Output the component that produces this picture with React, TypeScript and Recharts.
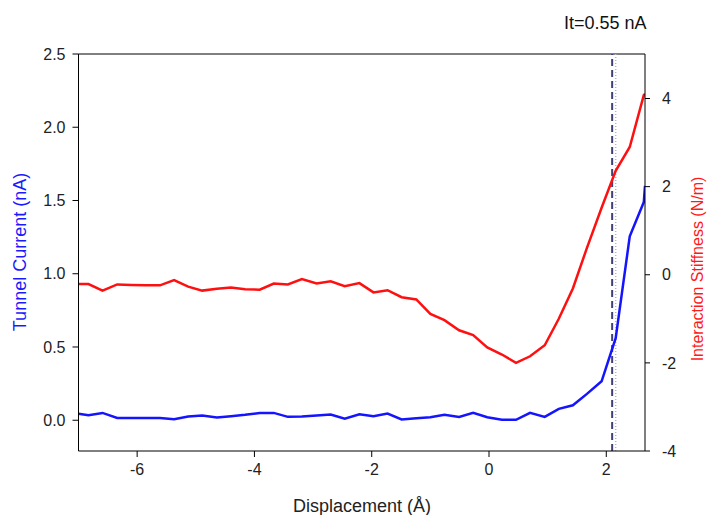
import { LineChart, Line, XAxis, YAxis, ReferenceLine, Label } from "recharts";

// tip displacement in Å
const displacement = [
  -7.0, -6.83, -6.59, -6.34, -6.1, -5.86, -5.61, -5.37, -5.13, -4.89, -4.64,
  -4.4, -4.16, -3.91, -3.67, -3.43, -3.19, -2.94, -2.7, -2.46, -2.21, -1.97,
  -1.73, -1.49, -1.24, -1.0, -0.76, -0.51, -0.27, -0.03, 0.22, 0.46, 0.7,
  0.95, 1.19, 1.43, 1.67, 1.92, 2.16, 2.4, 2.64, 2.66,
];

// tunnel current in nA
const tunnelCurrent = [
  0.044, 0.034, 0.05, 0.016, 0.016, 0.016, 0.016, 0.007, 0.025, 0.032, 0.018,
  0.027, 0.037, 0.05, 0.05, 0.023, 0.025, 0.032, 0.039, 0.01, 0.041, 0.027,
  0.046, 0.005, 0.014, 0.02, 0.037, 0.023, 0.05, 0.02, 0.003, 0.003, 0.05,
  0.023, 0.078, 0.102, 0.18, 0.266, 0.56, 1.255, 1.49, 1.6,
];

// interaction stiffness in N/m
const stiffness = [
  -0.21, -0.21, -0.36, -0.22, -0.23, -0.24, -0.24, -0.12, -0.27, -0.36, -0.32,
  -0.29, -0.33, -0.34, -0.2, -0.22, -0.1, -0.2, -0.15, -0.26, -0.19, -0.4,
  -0.35, -0.51, -0.56, -0.89, -1.03, -1.26, -1.37, -1.65, -1.81, -2.0, -1.85,
  -1.6, -1.0, -0.31, 0.61, 1.52, 2.36, 2.9, 4.08, 4.1,
];

const xTicks = [-6, -4, -2, 0, 2];
const currentTicks = [0, 0.5, 1, 1.5, 2, 2.5];
const stiffnessTicks = [-4, -2, 0, 2, 4];

const jumpMarker = 2.1;
const contactMarker = 2.16;

const data = displacement.map((x, i) => ({
  x,
  current: tunnelCurrent[i],
  stiffness: stiffness[i],
}));

const FONT = "'Liberation Sans', Arial, sans-serif";
const tickStyle = { fill: "#222", fontSize: 16, fontFamily: FONT };

export default function App() {
  return (
    <div
      style={{
        position: "absolute",
        left: 0,
        top: 0,
        width: 708,
        height: 515,
        background: "#fff",
        fontFamily: FONT,
      }}
    >
      <div
        style={{
          position: "absolute",
          left: 564,
          top: 13,
          fontSize: 18,
          color: "#111",
        }}
      >
        It=0.55 nA
      </div>
      <LineChart
        width={708}
        height={515}
        data={data}
        margin={{ top: 54, right: 0, bottom: 0, left: 0 }}
      >
        <XAxis
          dataKey="x"
          type="number"
          domain={[-7, 2.66]}
          ticks={xTicks}
          allowDataOverflow
          height={64}
          stroke="#000"
          tickSize={6}
          tickMargin={7}
          tick={tickStyle}
        >
          <Label
            content={() => (
              <text x={362} y={512} textAnchor="middle" fontSize={18} fontFamily={FONT} fill="#222">
                Displacement (Å)
              </text>
            )}
          />
        </XAxis>
        <YAxis
          yAxisId="left"
          domain={[-0.21, 2.5]}
          ticks={currentTicks}
          allowDataOverflow
          width={78.5}
          stroke="#000"
          tickSize={6}
          tickMargin={7}
          tick={tickStyle}
          tickFormatter={(v: number) => v.toFixed(1)}
        >
          <Label
            content={() => (
              <text
                x={26}
                y={252}
                transform="rotate(-90 26 252)"
                textAnchor="middle"
                fontSize={18}
                fontFamily={FONT}
                fill="#1a1aff"
              >
                Tunnel Current (nA)
              </text>
            )}
          />
        </YAxis>
        <YAxis
          yAxisId="right"
          orientation="right"
          domain={[-4, 5.01]}
          ticks={stiffnessTicks}
          allowDataOverflow
          width={63}
          stroke="#000"
          tickSize={5}
          tickMargin={12}
          tick={tickStyle}
        >
          <Label
            content={() => (
              <text
                x={703}
                y={269}
                transform="rotate(-90 703 269)"
                textAnchor="middle"
                fontSize={16}
                fontFamily={FONT}
                fill="#ff1a1a"
              >
                Interaction Stiffness (N/m)
              </text>
            )}
          />
        </YAxis>
        <ReferenceLine yAxisId="left" y={2.5} stroke="#000" strokeWidth={1} />
        <ReferenceLine
          yAxisId="left"
          x={contactMarker}
          stroke="#b4b4cc"
          strokeWidth={1.5}
          strokeDasharray="1 2"
        />
        <ReferenceLine
          yAxisId="left"
          x={jumpMarker}
          stroke="#404078"
          strokeWidth={2}
          strokeDasharray="7 4"
        />
        <Line
          yAxisId="left"
          type="linear"
          dataKey="current"
          stroke="#1414ff"
          strokeWidth={2.5}
          dot={false}
          isAnimationActive={false}
        />
        <Line
          yAxisId="right"
          type="linear"
          dataKey="stiffness"
          stroke="#ff1010"
          strokeWidth={2.5}
          dot={false}
          isAnimationActive={false}
        />
      </LineChart>
    </div>
  );
}
